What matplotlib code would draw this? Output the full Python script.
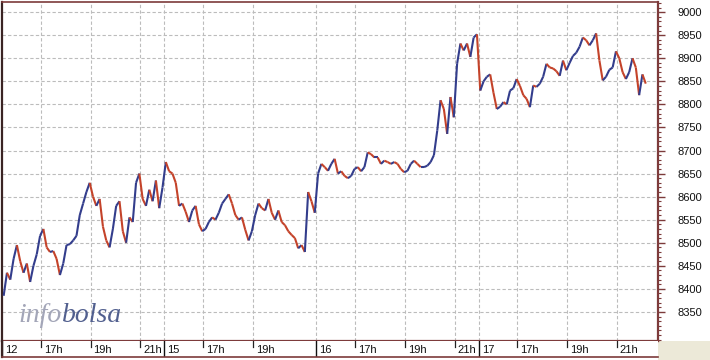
import matplotlib
matplotlib.use("Agg")
import matplotlib.pyplot as plt
from matplotlib.collections import LineCollection
from matplotlib.patches import Rectangle
from matplotlib.transforms import offset_copy
import numpy as np

# Intraday index level, one sample every 8 minutes from 15:30
SESSION_START_H = 15.5
BAR_MINUTES = 8

days = ["12", "15", "16", "17"]
day_hours = [[17, 19, 21], [17, 19], [17, 19, 21], [17, 19, 21]]

prices_12 = [8385, 8435, 8420, 8465, 8495, 8460, 8435, 8455, 8415, 8450,
             8475, 8515, 8530, 8490, 8480, 8482, 8465, 8430, 8455, 8495,
             8497, 8505, 8515, 8560, 8585, 8610, 8630, 8600, 8580, 8595,
             8535, 8505, 8490, 8530, 8580, 8590, 8525, 8500, 8555, 8545,
             8630, 8650, 8595, 8580, 8615, 8590, 8635, 8575, 8620]
prices_15 = [8675, 8655, 8650, 8630, 8580, 8585, 8567, 8545, 8570, 8580,
             8540, 8525, 8530, 8545, 8555, 8550, 8565, 8585, 8595, 8605,
             8585, 8560, 8550, 8555, 8528, 8505, 8525, 8560, 8585, 8575,
             8570, 8595, 8565, 8550, 8570, 8545, 8538, 8525, 8517, 8510,
             8488, 8495, 8480, 8610, 8590, 8565]
prices_16 = [8650, 8671, 8664, 8656, 8671, 8682, 8650, 8655, 8645, 8640,
             8645, 8660, 8664, 8655, 8664, 8696, 8692, 8685, 8685, 8671,
             8678, 8675, 8671, 8675, 8671, 8660, 8653, 8656, 8671, 8678,
             8671, 8664, 8664, 8667, 8675, 8690, 8743, 8809, 8790, 8736,
             8816, 8772, 8888, 8932, 8917, 8932, 8903, 8945, 8952]
prices_17 = [8830, 8850, 8860, 8865, 8825, 8790, 8795, 8805, 8800, 8830,
             8835, 8855, 8840, 8820, 8812, 8794, 8841, 8838, 8845, 8860,
             8888, 8880, 8878, 8872, 8862, 8895, 8874, 8890, 8905, 8912,
             8925, 8945, 8939, 8928, 8939, 8954, 8895, 8852, 8860, 8875,
             8880, 8915, 8900, 8870, 8855, 8870, 8900, 8880, 8820, 8865,
             8845]

y_ticks = [8350, 8400, 8450, 8500, 8550, 8600, 8650, 8700, 8750, 8800,
           8850, 8900, 8950, 9000]

UP_COLOR = "#333d8c"
DOWN_COLOR = "#c4432a"
FRAME = "#7d3b3b"
GRID = "#bcbcbc"

day_series = [prices_12, prices_15, prices_16, prices_17]
prices = np.concatenate(day_series)
idx = np.arange(len(prices))
day_starts = np.cumsum([0] + [len(s) for s in day_series[:-1]])

fig = plt.figure(figsize=(7.1, 3.6), dpi=100)
fig.patch.set_facecolor("white")
W, H = 710, 360
ax = fig.add_axes([2 / W, 19 / H, 656 / W, 339 / H])
strip = fig.add_axes([2 / W, 3 / H, 656 / W, 16 / H], sharex=ax)
fig.patches.append(Rectangle((658 / W, 0), 52 / W, 19 / H, transform=fig.transFigure,
                             facecolor="#ece9d8", edgecolor="none", zorder=-1))

# price path, coloured by direction of each move
pts = np.column_stack([idx, prices])
segs = np.stack([pts[:-1], pts[1:]], axis=1)
colors = [UP_COLOR if b >= a else DOWN_COLOR for a, b in zip(prices[:-1], prices[1:])]
ax.add_collection(LineCollection(segs, colors=colors, linewidths=1.5, zorder=3))

ax.set_xlim(-0.5, 197.7)
ax.set_ylim(8287, 9022)

# hour and day positions on the bar axis
hour_pos, hour_lab = [], []
for start, hours in zip(day_starts, day_hours):
    for h in hours:
        hour_pos.append(start + (h - SESSION_START_H) * 60 / BAR_MINUTES)
        hour_lab.append(f"{h}h")
day_pos = [s - 0.5 for s in day_starts]

# grid
for v in y_ticks:
    ax.axhline(v, color=GRID, lw=0.8, ls=(0, (3, 2)), zorder=1)
for x in hour_pos + day_pos[1:]:
    ax.axvline(x, color=GRID, lw=0.8, ls=(0, (3, 2)), zorder=1)

ax.yaxis.tick_right()
ax.set_yticks(y_ticks)
ax.set_yticks(np.arange(8290, 9021, 10), minor=True)
ax.tick_params(axis="y", which="major", length=5, width=1, color=FRAME, pad=9,
               labelsize=8, labelcolor="#111111")
ax.tick_params(axis="y", which="minor", length=2.5, width=0.8, color=FRAME)
ax.tick_params(axis="x", which="both", bottom=False, labelbottom=False)
for lab in ax.get_yticklabels():
    lab.set_family("Liberation Sans")

ax.spines["right"].set_color(FRAME)
ax.spines["right"].set_linewidth(1.6)
ax.spines["bottom"].set_color(FRAME)
ax.spines["bottom"].set_linewidth(1.6)
ax.spines["left"].set_color("#3a2424")
ax.spines["left"].set_linewidth(1.6)
ax.spines["top"].set_color(FRAME)
ax.spines["top"].set_linewidth(1.2)

# watermark
wm_font = dict(family="Liberation Serif", style="italic", fontsize=20)
t1 = ax.text(16 / 656, 19 / 339, "info", transform=ax.transAxes, color="#a3a6b8",
             va="baseline", ha="left", **wm_font)
fig.canvas.draw()
bb = t1.get_window_extent()
x1_ax = ax.transAxes.inverted().transform((bb.x1 + 1, bb.y0))[0]
ax.text(x1_ax, 19 / 339, "bolsa", transform=ax.transAxes, color="#52608f",
        va="baseline", ha="left", **wm_font)

# time strip below the chart
strip.set_ylim(0, 1)
strip.set_yticks([])
strip.tick_params(axis="x", which="both", bottom=False, labelbottom=False)
for s in ["top", "right"]:
    strip.spines[s].set_visible(False)
strip.spines["bottom"].set_color(FRAME)
strip.spines["bottom"].set_linewidth(1.2)
strip.spines["left"].set_color("#3a2424")
strip.spines["left"].set_linewidth(1.6)

lab_tr = offset_copy(strip.transData, fig=fig, x=3, y=0, units="dots")
for x, lab in zip(hour_pos, hour_lab):
    strip.plot([x, x], [1, 0.65], color="#222222", lw=0.9)
    strip.text(x, 0.45, lab, transform=lab_tr, ha="left", va="center",
               fontsize=8, family="Liberation Sans", color="#111111")
for x, lab in zip(day_pos, days):
    strip.plot([x, x], [1, 0], color="#111111", lw=1.0)
    strip.text(x, 0.45, lab, transform=lab_tr, ha="left", va="center",
               fontsize=8, family="Liberation Sans", color="#111111")

fig.savefig("out.png", dpi=100)
